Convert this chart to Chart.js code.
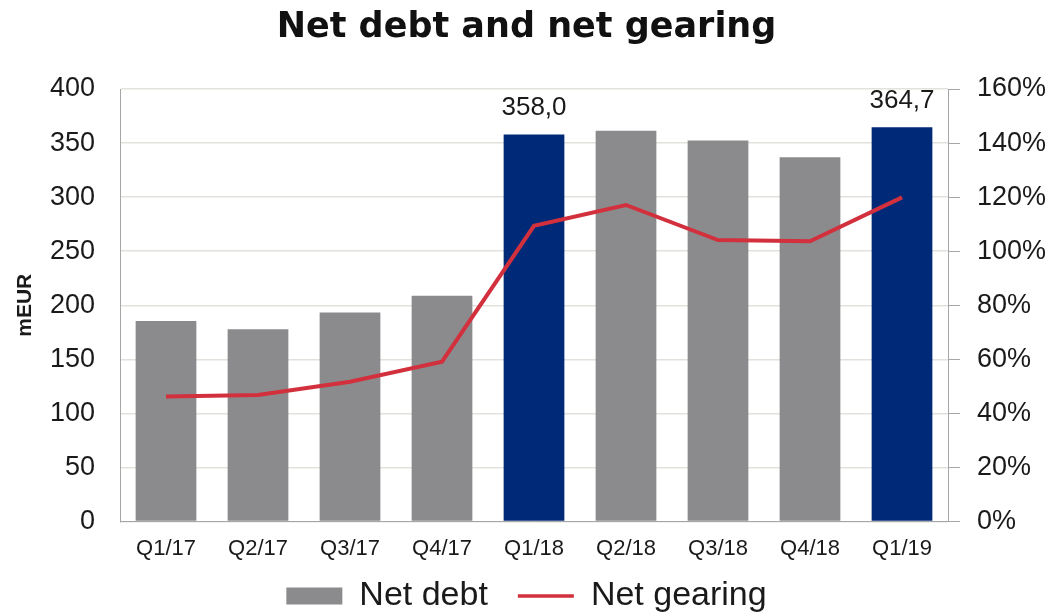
<!DOCTYPE html>
<html>
<head>
<meta charset="utf-8">
<script src="https://cdn.jsdelivr.net/npm/chart.js@4.4.1/dist/chart.umd.min.js"></script>
<style>
  html, body { margin: 0; padding: 0; background: #ffffff; }
  #wrap { width: 1053px; height: 613px; position: relative; }
</style>
</head>
<body>
<div id="wrap"><canvas id="c"></canvas></div>
<script>
// ---- data ----
const quarters = ['Q1/17', 'Q2/17', 'Q3/17', 'Q4/17', 'Q1/18', 'Q2/18', 'Q3/18', 'Q4/18', 'Q1/19'];
const netDebt = [185.5, 177.8, 193.2, 208.9, 358.0, 361.5, 352.3, 336.9, 364.7];
const netGearing = [46.2, 46.8, 51.7, 59.1, 109.4, 117.1, 104.1, 103.7, 119.9];
const highlightedQuarters = ['Q1/18', 'Q1/19'];
const leftAxisTicks = [0, 50, 100, 150, 200, 250, 300, 350, 400];
const rightAxisTicks = [0, 20, 40, 60, 80, 100, 120, 140, 160];
const seriesNames = ['Net debt', 'Net gearing'];
const chartTitle = 'Net debt and net gearing';
const leftAxisTitle = 'mEUR';

// ---- styles ----
const GRAY = '#8b8b8d';
const NAVY = '#002a78';
const RED = '#d2303d';
const TEXT = '#1a1a1a';
const AXIS = '#a6a6a6';
const GRID = '#e2e2dd';
const FONT = '"Liberation Sans", Arial, sans-serif';

const valueLabels = {
  id: 'valueLabels',
  afterDatasetsDraw(chart) {
    const meta = chart.getDatasetMeta(0);
    const ctx = chart.ctx;
    ctx.save();
    ctx.font = '26px ' + FONT;
    ctx.fillStyle = TEXT;
    ctx.textAlign = 'center';
    ctx.textBaseline = 'alphabetic';
    meta.data.forEach((bar, i) => {
      if (!highlightedQuarters.includes(quarters[i])) return;
      ctx.fillText(netDebt[i].toFixed(1).replace('.', ','), bar.x, bar.y - 19);
    });
    ctx.restore();
  }
};

// legend uses a wide item gap (padding); extend the box upward so the text sits at the reference height
const legendNudge = {
  id: 'legendNudge',
  afterLayout(chart) {
    const lg = chart.legend;
    if (!lg) return;
    lg.top -= 26;
    lg.height += 26;
  }
};

new Chart(document.getElementById('c'), {
  data: {
    labels: quarters,
    datasets: [
      {
        type: 'bar',
        label: seriesNames[0],
        data: netDebt,
        yAxisID: 'y',
        order: 2,
        backgroundColor: quarters.map(q => highlightedQuarters.includes(q) ? NAVY : GRAY),
        borderWidth: 0,
        barPercentage: 0.66,
        categoryPercentage: 1.0
      },
      {
        type: 'line',
        label: seriesNames[1],
        data: netGearing,
        yAxisID: 'y2',
        order: 1,
        borderColor: RED,
        backgroundColor: RED,
        borderWidth: 4,
        pointRadius: 0,
        tension: 0,
        fill: false
      }
    ]
  },
  options: {
    responsive: true,
    maintainAspectRatio: false,
    animation: false,
    devicePixelRatio: 1,
    layout: { padding: 0 },
    plugins: {
      tooltip: { enabled: false },
      title: {
        display: true,
        text: chartTitle,
        color: '#111111',
        font: { family: '"DejaVu Sans", "Liberation Sans", Arial, sans-serif', weight: 'bold', size: 35, lineHeight: 1.2 },
        padding: { top: 7, bottom: 40 }
      },
      legend: {
        position: 'bottom',
        maxHeight: 38,
        labels: {
          usePointStyle: true,
          pointStyleWidth: 56,
          boxHeight: 17,
          padding: 30,
          color: TEXT,
          font: { family: FONT, size: 34 },
          generateLabels(chart) {
            return [
              { text: seriesNames[0], fillStyle: GRAY, strokeStyle: GRAY, lineWidth: 0, pointStyle: 'rect', datasetIndex: 0, hidden: false, fontColor: TEXT },
              { text: seriesNames[1], fillStyle: RED, strokeStyle: RED, lineWidth: 3.5, pointStyle: 'line', datasetIndex: 1, hidden: false, fontColor: TEXT }
            ];
          }
        }
      }
    },
    scales: {
      x: {
        type: 'category',
        grid: { display: false, drawTicks: false },
        border: { display: true, color: AXIS, width: 1 },
        ticks: { color: TEXT, font: { family: FONT, size: 22 }, padding: 14, maxRotation: 0, autoSkip: false },
        afterFit(scale) { scale.height = 53.5; }
      },
      y: {
        type: 'linear',
        position: 'left',
        min: leftAxisTicks[0],
        max: leftAxisTicks[leftAxisTicks.length - 1],
        ticks: { stepSize: leftAxisTicks[1] - leftAxisTicks[0], color: TEXT, font: { family: FONT, size: 27 }, padding: 25 },
        grid: { color: GRID, lineWidth: 1.5, drawTicks: false },
        border: { display: true, color: AXIS, width: 1 },
        title: { display: true, text: leftAxisTitle, color: TEXT, font: { family: FONT, weight: 'bold', size: 21 }, padding: { top: 13, bottom: 0 } },
        afterFit(scale) { scale.width = 120; }
      },
      y2: {
        type: 'linear',
        position: 'right',
        min: rightAxisTicks[0],
        max: rightAxisTicks[rightAxisTicks.length - 1],
        ticks: { stepSize: rightAxisTicks[1] - rightAxisTicks[0], color: TEXT, font: { family: FONT, size: 27 }, padding: 17, callback: v => v + '%' },
        grid: { drawOnChartArea: false, drawTicks: true, tickLength: 12, color: AXIS, lineWidth: 1 },
        border: { display: true, color: AXIS, width: 1 },
        afterFit(scale) { scale.width = 105; }
      }
    }
  },
  plugins: [valueLabels, legendNudge]
});
</script>
</body>
</html>
